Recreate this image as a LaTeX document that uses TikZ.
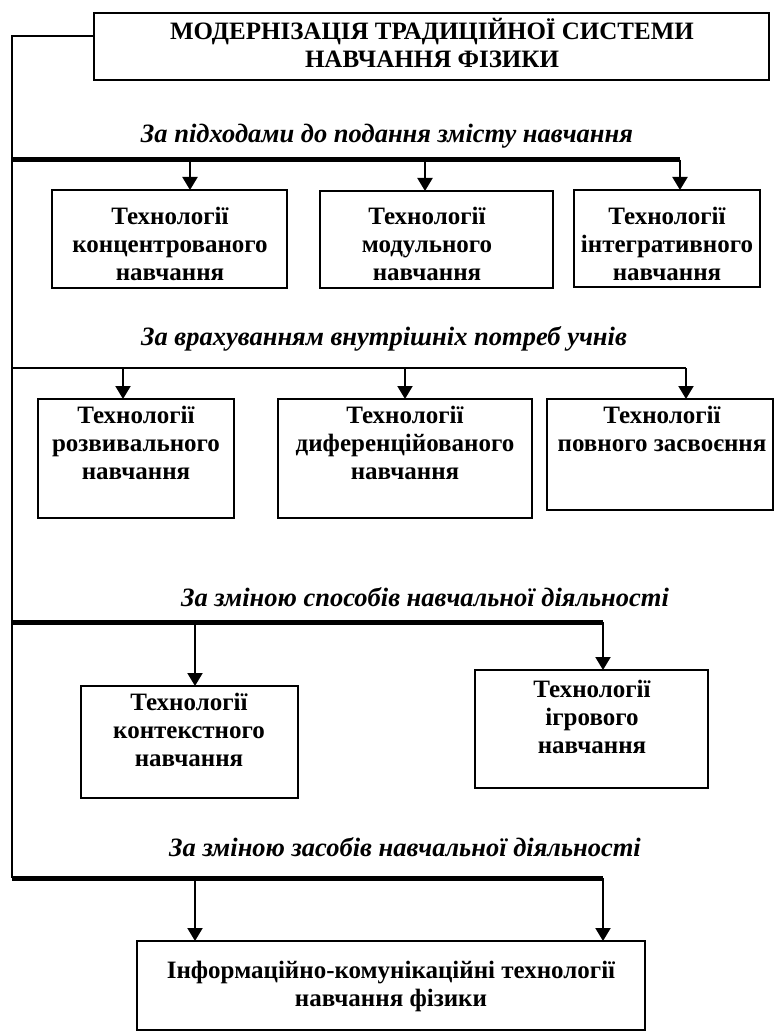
\documentclass[tikz,border=0pt]{standalone}
\usepackage{fontspec}
\setmainfont{Liberation Serif}
\usetikzlibrary{arrows.meta,positioning,calc}

\tikzset{
  box/.style={draw, line width=2pt, inner sep=0pt, outer sep=0pt, anchor=north west},
  boxtext/.style={align=center, inner sep=0pt, anchor=base, font=\bfseries\fontsize{25}{28}\selectfont},
  heading/.style={inner sep=0pt, anchor=base, font=\bfseries\itshape\fontsize{26.5}{29}\selectfont},
  bar/.style={line width=5pt},
  wire/.style={line width=2pt},
  arr/.style={line width=2pt, -{Triangle[width=15pt,length=13pt]}}
}

\begin{document}
\begin{tikzpicture}[x=1pt,y=-1pt]
    \useasboundingbox (0,0) rectangle (774,1032);

    % title and the spine on the left
    % (text nodes sit on the baseline of their last line)
    \node[box, minimum width=675pt, minimum height=67pt] (title) at (94,13) {};
    \node[boxtext] (titletxt) at (432,68) {МОДЕРНІЗАЦІЯ ТРАДИЦІЙНОЇ СИСТЕМИ\\НАВЧАННЯ ФІЗИКИ};
    \coordinate (spinetop) at (12,36);
    \coordinate (spinebot) at (12,878);
    \draw[wire] (spinetop -| title.west) -- (spinetop) -- (spinebot);

    % first group
    \node[heading] (head1) at (387,143) {За підходами до подання змісту навчання};
    \coordinate (bar1) at (12,160);
    \draw[bar] (bar1) -- ++(668,0) coordinate (bar1end);
    \node[box, minimum width=235pt, minimum height=98pt] (konc) at (52,190) {};
    \node[box, minimum width=233pt, minimum height=97pt] (modul) at (320,191) {};
    \node[box, minimum width=186pt, minimum height=97pt] (integr) at (574,190) {};
    \node[boxtext] at (170,280) {Технології\\концентрованого\\навчання};
    \node[boxtext] at (427,280) {Технології\\модульного\\навчання};
    \node[boxtext] at (667,280) {Технології\\інтегративного\\навчання};
    \coordinate (a11) at (190,160);
    \coordinate (a12) at (425,160);
    \draw[arr] (a11) -- (a11 |- konc.north);
    \draw[arr] (a12) -- (a12 |- modul.north);
    \draw[arr] (bar1end) -- (bar1end |- integr.north);

    % second group
    \node[heading] (head2) at (384,345) {За врахуванням внутрішніх потреб учнів};
    \coordinate (bar2) at (12,368);
    \draw[wire] (bar2) -- ++(674,0) coordinate (bar2end);
    \node[box, minimum width=196pt, minimum height=119pt] (rozv) at (38,399) {};
    \node[box, minimum width=254pt, minimum height=119pt] (dyfer) at (278,399) {};
    \node[box, minimum width=226pt, minimum height=111pt] (povn) at (547,399) {};
    \node[boxtext] at (136,479) {Технології\\розвивального\\навчання};
    \node[boxtext] at (405,479) {Технології\\диференційованого\\навчання};
    \node[boxtext] at (662,451) {Технології\\повного засвоєння};
    \coordinate (a21) at (123,368);
    \coordinate (a22) at (405,368);
    \draw[arr] (a21) -- (a21 |- rozv.north);
    \draw[arr] (a22) -- (a22 |- dyfer.north);
    \draw[arr] (bar2end) -- (bar2end |- povn.north);

    % third group
    \node[heading] (head3) at (425,606) {За зміною способів навчальної діяльності};
    \coordinate (bar3) at (12,622);
    \draw[bar] (bar3) -- ++(591,0) coordinate (bar3end);
    \node[box, minimum width=217pt, minimum height=112pt] (kontekst) at (81,686) {};
    \node[box, minimum width=233pt, minimum height=118pt] (igrov) at (475,670) {};
    \node[boxtext] at (189,766) {Технології\\контекстного\\навчання};
    \node[boxtext] at (592,753) {Технології\\ігрового\\навчання};
    \coordinate (a31) at (195,622);
    \draw[arr] (a31) -- (a31 |- kontekst.north);
    \draw[arr] (bar3end) -- (bar3end |- igrov.north);

    % fourth group
    \node[heading] (head4) at (405,856) {За зміною засобів навчальної діяльності};
    \draw[bar] (spinebot) -- ++(591,0) coordinate (bar4end);
    \node[box, minimum width=508pt, minimum height=89pt] (ikt) at (137,941) {};
    \node[boxtext] at (391,1006) {Інформаційно-комунікаційні технології\\навчання фізики};
    \coordinate (a41) at (195,878);
    \draw[arr] (a41) -- (a41 |- ikt.north);
    \draw[arr] (bar4end) -- (bar4end |- ikt.north);
\end{tikzpicture}
\end{document}
